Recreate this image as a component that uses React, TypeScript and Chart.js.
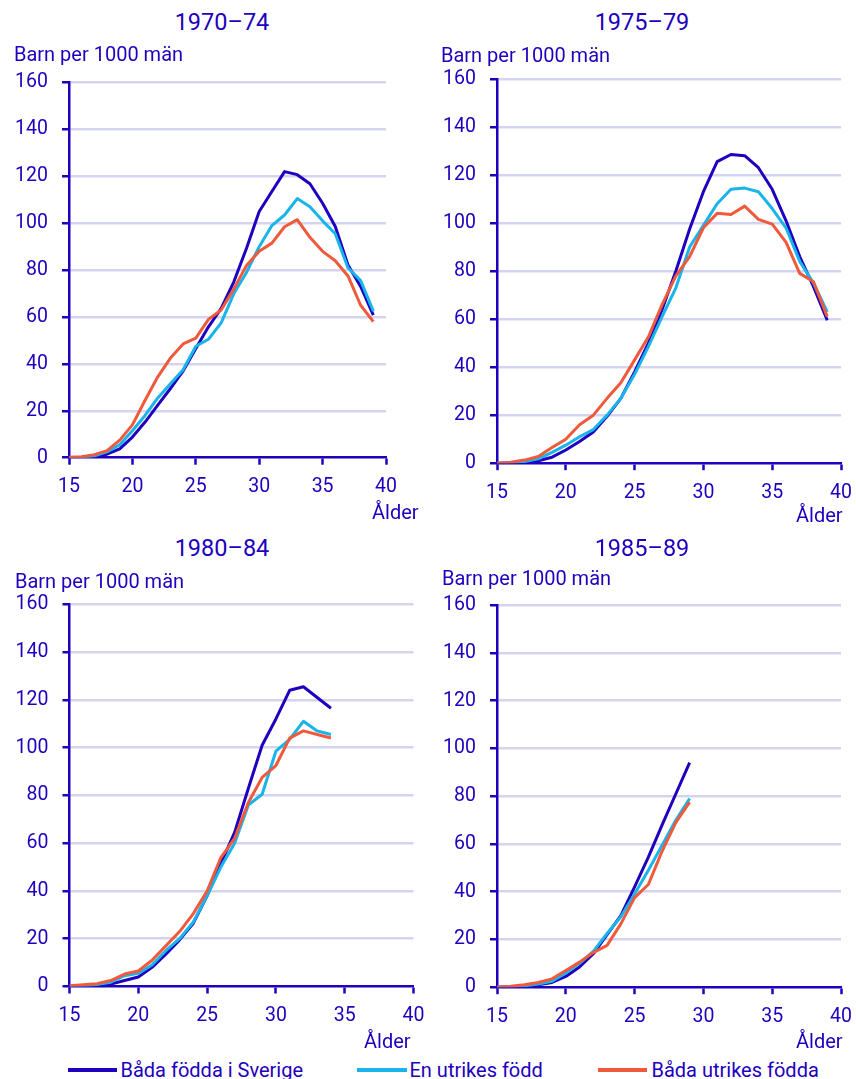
import React, { useEffect, useRef } from "react";
import { Chart, registerables } from "chart.js";

Chart.register(...registerables);
Chart.defaults.font.family = "Roboto";

// ---------------- DATA ----------------
const TITLES = ["1970–74", "1975–79", "1980–84", "1985–89"];
const Y_LABEL = "Barn per 1000 män";
const X_LABEL = "Ålder";
const SERIES_NAMES = ["Båda födda i Sverige", "En utrikes född", "Båda utrikes födda"];
const X_TICKS = [15, 20, 25, 30, 35, 40];
const Y_TICKS = [0, 20, 40, 60, 80, 100, 120, 140, 160];

const AGES_A = [15, 16, 17, 18, 19, 20, 21, 22, 23, 24, 25, 26, 27, 28, 29, 30, 31, 32, 33, 34, 35, 36, 37, 38, 39];
const AGES_C = [15, 16, 17, 18, 19, 20, 21, 22, 23, 24, 25, 26, 27, 28, 29, 30, 31, 32, 33, 34];
const AGES_D = [15, 16, 17, 18, 19, 20, 21, 22, 23, 24, 25, 26, 27, 28, 29];

// 1970–74
const P1_SVERIGE = [0, 0.2, 0.6, 1.5, 3.8, 8.8, 15.2, 22.4, 29.5, 37, 46.6, 55.8, 63.7, 75, 89.3, 105, 113.5, 122, 120.7, 116.8, 108.5, 98.6, 82.2, 73, 60.8];
const P1_EN = [0, 0.2, 0.8, 2.5, 5.5, 11.5, 18, 25.5, 31.5, 37.5, 47.5, 50.5, 57.5, 70, 79, 90, 99, 103.5, 110.5, 107, 101, 95.5, 81, 75.5, 62.5];
const P1_BADA = [0.2, 0.4, 1.3, 3, 7.5, 14, 24.5, 34.5, 42.5, 48.5, 51, 59, 63, 72, 82, 88, 91.5, 98.5, 101.5, 94, 88, 84, 77.5, 65, 58];

// 1975–79
const P2_SVERIGE = [0, 0.1, 0.5, 1, 2.5, 5.5, 9, 13, 19.5, 27, 38, 50, 64, 80, 97.5, 113, 125.5, 128.5, 128, 123, 114, 101, 86, 73.5, 59.5];
const P2_EN = [0, 0.2, 0.7, 1.8, 4.5, 7.5, 11, 14, 20, 27, 37, 48.5, 61, 73, 90, 99, 108, 114, 114.5, 113, 106, 98, 84, 75, 63];
const P2_BADA = [0, 0.4, 1.3, 2.8, 6.5, 10, 16, 20, 27, 33.5, 43, 52.5, 66, 78, 86, 98, 104, 103.5, 107, 101.5, 99.5, 92, 79, 75.5, 61];

// 1980–84
const P3_SVERIGE = [0, 0.2, 0.5, 1, 2.5, 4, 8, 13.5, 19.5, 26.5, 38, 51.5, 64.5, 83, 101, 112, 124, 125.5, 121, 116.5];
const P3_EN = [0, 0.3, 0.8, 1.8, 4.5, 5.5, 9, 15, 20, 27, 38, 50, 60, 76, 80.5, 98.5, 103.5, 111, 107, 105.5];
const P3_BADA = [0.3, 0.7, 1.2, 2.5, 5.2, 6.5, 11, 17, 23, 30.5, 40, 54, 62, 77, 87.5, 92.5, 104, 107, 105.5, 104];

// 1985–89
const P4_SVERIGE = [0, 0.2, 0.5, 1, 2, 4.5, 8.5, 14, 22, 30, 42, 54.5, 68, 81, 94];
const P4_EN = [0, 0.2, 0.6, 1.3, 2.5, 6, 10, 15, 22.5, 29.5, 39, 49, 59.5, 70, 79];
const P4_BADA = [0, 0.4, 1, 2, 3.5, 7, 10.5, 14.5, 17.5, 26.5, 37.5, 43, 57, 69, 77.5];

const PANEL_DATA = [
  { title: TITLES[0], ages: AGES_A, series: [P1_SVERIGE, P1_EN, P1_BADA] },
  { title: TITLES[1], ages: AGES_A, series: [P2_SVERIGE, P2_EN, P2_BADA] },
  { title: TITLES[2], ages: AGES_C, series: [P3_SVERIGE, P3_EN, P3_BADA] },
  { title: TITLES[3], ages: AGES_D, series: [P4_SVERIGE, P4_EN, P4_BADA] },
];

// ---------------- STYLE / LAYOUT ----------------
const BLUE = "#1E00BE";
const CYAN = "#18B4EA";
const RED = "#F05A3C";
const GRID = "#D4D4F0";
const SERIES_COLORS = [BLUE, CYAN, RED];

const TICK_FONT = 19.5;
const LABEL_FONT = 20;
const TITLE_FONT = 23.5;
const TOP_PAD = 34;

const LAYOUT = [
  { cl: 0, x15: 69, x40: 386, y160: 82.5, y0: 457.7, titleCx: 222, titleBase: 31, ylX: 14, ylBase: 60.5, alX: 372, alBase: 519 },
  { cl: 428, x15: 497, x40: 841, y160: 78.8, y0: 463.2, titleCx: 642, titleBase: 31, ylX: 441, ylBase: 61.5, alX: 796, alBase: 522 },
  { cl: 0, x15: 69.5, x40: 413.5, y160: 604.3, y0: 986.5, titleCx: 222, titleBase: 556.5, ylX: 15, ylBase: 587.5, alX: 364, alBase: 1047.5 },
  { cl: 428, x15: 497, x40: 841, y160: 605.1, y0: 987.2, titleCx: 642, titleBase: 556.5, ylX: 442, ylBase: 585, alX: 796, alBase: 1048 },
];

const LEGEND = [
  { x1: 67.5, x2: 116.5, textX: 120.5 },
  { x1: 357, x2: 406.5, textX: 409.5 },
  { x1: 597.5, x2: 646.5, textX: 651.5 },
];
const LEGEND_LINE_Y = 1069.5;
const LEGEND_BASE = 1077;

function Txt(props: { x: number; base: number; size: number; children: any; center?: boolean }) {
  const { x, base, size, children, center } = props;
  const top = base - 0.842 * size;
  const style: any = {
    position: "absolute",
    top,
    fontSize: size,
    lineHeight: size + "px",
    color: BLUE,
    whiteSpace: "nowrap",
    fontFamily: "Roboto",
  };
  if (center) {
    style.left = x - 150;
    style.width = 300;
    style.textAlign = "center";
  } else {
    style.left = x;
  }
  return <div style={style}>{children}</div>;
}

function Panel(props: { idx: number }) {
  const { idx } = props;
  const d = PANEL_DATA[idx];
  const l = LAYOUT[idx];
  const ref = useRef<HTMLCanvasElement | null>(null);
  const ct = Math.round(l.y160) - TOP_PAD;
  const cw = Math.round(l.x40) + 24 - l.cl;
  const ch = Math.round(l.y0) + 52 - ct;

  useEffect(() => {
    if (!ref.current) return;
    const datasets = d.series.map((vals, si) => ({
      label: SERIES_NAMES[si],
      data: d.ages.map((a, i) => ({ x: a, y: vals[i] })),
      borderColor: SERIES_COLORS[si],
      backgroundColor: SERIES_COLORS[si],
      borderWidth: 3,
      pointRadius: 0,
      tension: 0,
      fill: false,
      borderJoinStyle: "round" as const,
      order: 2 - si,
    }));
    const chart = new Chart(ref.current, {
      type: "line",
      data: { datasets },
      options: {
        responsive: false,
        animation: false,
        devicePixelRatio: 1,
        layout: { padding: { top: l.y160 - ct, right: l.cl + cw - l.x40, left: 0, bottom: 0 } },
        plugins: { legend: { display: false }, title: { display: false }, tooltip: { enabled: false } },
        events: [],
        scales: {
          x: {
            type: "linear",
            min: X_TICKS[0],
            max: X_TICKS[X_TICKS.length - 1],
            afterBuildTicks: (s: any) => {
              s.ticks = X_TICKS.map((v) => ({ value: v }));
            },
            ticks: { color: BLUE, font: { size: TICK_FONT }, padding: 11, maxRotation: 0, autoSkip: false },
            grid: { drawOnChartArea: false, drawTicks: true, tickLength: 7, tickWidth: 2.5, tickColor: BLUE },
            border: { color: BLUE, width: 2.5 },
            afterFit: (s: any) => {
              s.height = ct + ch - l.y0;
            },
          },
          y: {
            type: "linear",
            min: Y_TICKS[0],
            max: Y_TICKS[Y_TICKS.length - 1],
            afterBuildTicks: (s: any) => {
              s.ticks = Y_TICKS.map((v) => ({ value: v }));
            },
            ticks: { color: BLUE, font: { size: TICK_FONT }, padding: 14 },
            grid: {
              color: (c: any) => (c.tick && c.tick.value === 0 ? "rgba(0,0,0,0)" : GRID),
              lineWidth: 2.5,
              drawTicks: true,
              tickLength: 7,
              tickWidth: 2.5,
              tickColor: BLUE,
            },
            border: { color: BLUE, width: 2.5 },
            afterFit: (s: any) => {
              s.width = l.x15 - l.cl;
            },
          },
        },
      },
    });
    return () => chart.destroy();
  }, []);

  return (
    <>
      <canvas
        ref={ref}
        width={cw}
        height={ch}
        style={{ position: "absolute", left: l.cl, top: ct, width: cw, height: ch }}
      />
      <Txt x={l.titleCx} base={l.titleBase} size={TITLE_FONT} center>
        {d.title}
      </Txt>
      <Txt x={l.ylX} base={l.ylBase} size={LABEL_FONT}>
        {Y_LABEL}
      </Txt>
      <Txt x={l.alX} base={l.alBase} size={LABEL_FONT}>
        {X_LABEL}
      </Txt>
    </>
  );
}

export default function App() {
  return (
    <div
      style={{
        position: "absolute",
        left: 0,
        top: 0,
        width: 856,
        height: 1079,
        overflow: "hidden",
        background: "#ffffff",
        fontFamily: "Roboto",
      }}
    >
      {PANEL_DATA.map((_, i) => (
        <Panel key={i} idx={i} />
      ))}
      {LEGEND.map((g, i) => (
        <React.Fragment key={i}>
          <div
            style={{
              position: "absolute",
              left: g.x1,
              top: LEGEND_LINE_Y - 2,
              width: g.x2 - g.x1,
              height: 4,
              background: SERIES_COLORS[i],
            }}
          />
          <Txt x={g.textX} base={LEGEND_BASE} size={LABEL_FONT}>
            {SERIES_NAMES[i]}
          </Txt>
        </React.Fragment>
      ))}
    </div>
  );
}
